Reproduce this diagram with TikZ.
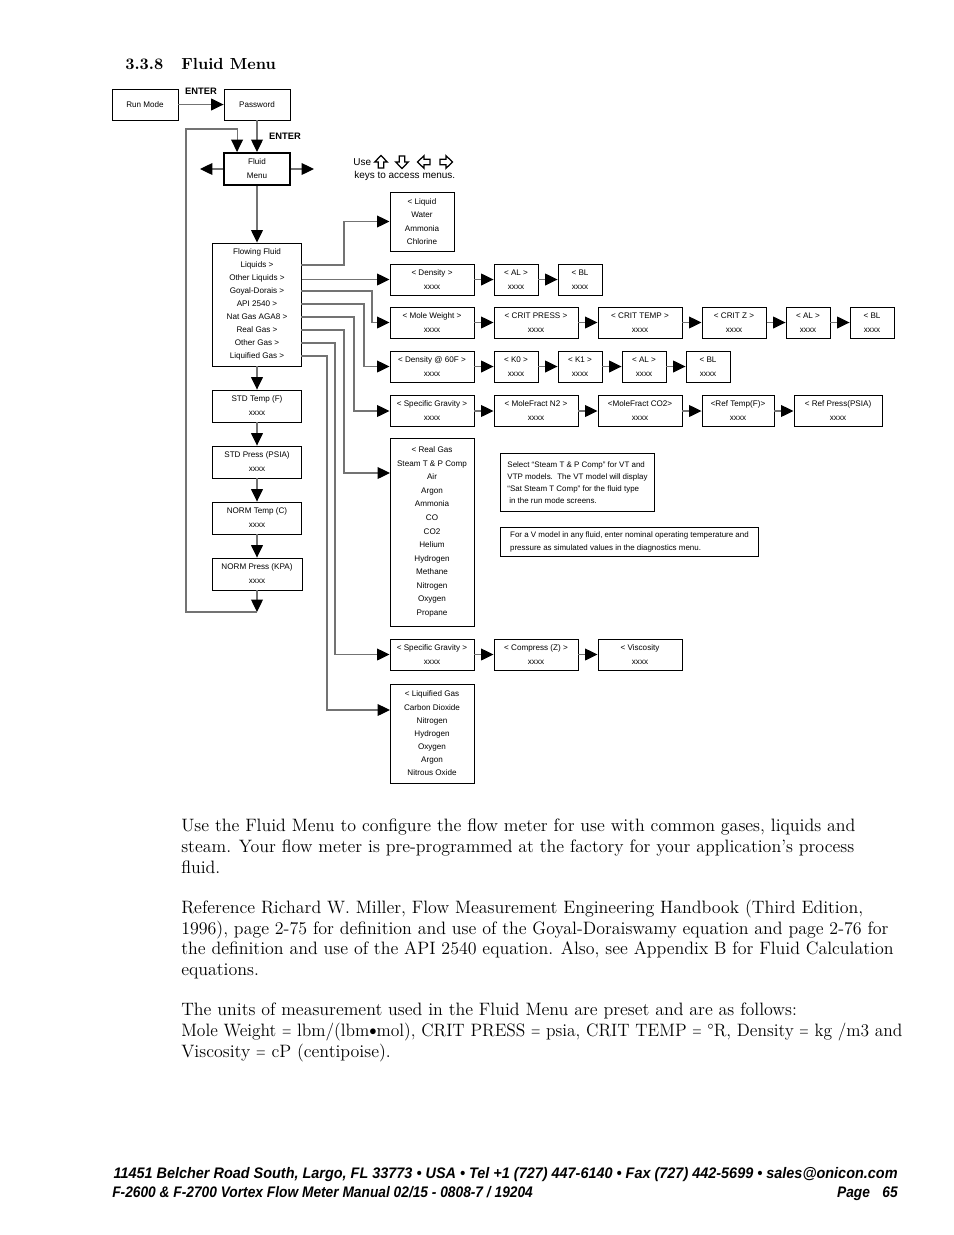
\documentclass[tikz,border=0pt]{standalone}
\usepackage{fontspec}
\usepackage{graphicx}
\usetikzlibrary{arrows.meta}
\newfontfamily\boxfont{Liberation Sans}
\newcommand\eqsign{\scalebox{0.7}[1]{=}}
\newcommand\dotsign{\raisebox{0.15ex}{\scalebox{0.8}{${\bullet}$}}}

\begin{document}
\begin{tikzpicture}[x=0.6415pt, y=-0.6415pt,
    box/.style={draw, line width=0.6pt, inner sep=0pt, align=center, minimum height=19.9pt,
      font=\boxfont\fontsize{5.2}{9}\selectfont},
    cell/.style={box, minimum width=#1},
    list/.style={box, font=\boxfont\fontsize{5.2}{8.5}\selectfont},
    note/.style={draw, line width=0.6pt, inner sep=2.4pt, align=left, anchor=north west,
      font=\boxfont\fontsize{5.1}{7.8}\selectfont},
    enter/.style={font=\boxfont\bfseries\fontsize{6}{7}\selectfont, inner sep=0pt},
    keytext/.style={font=\boxfont\fontsize{6.4}{8}\selectfont, inner sep=0pt},
    keyarrow/.style={draw, line width=0.8pt, line join=miter, fill=white},
    conn/.style={draw=black!55, line width=0.7pt, -{Triangle[length=8pt, width=7.6pt, color=black]}},
    body/.style={anchor=north west, inner sep=0pt, align=left, font=\fontsize{11.5}{13.2}\selectfont},
    foot/.style={inner sep=0pt, font=\boxfont\bfseries\itshape\fontsize{9.8}{11}\selectfont},
]
\fill[white] (0,0) rectangle (954,1235);
\useasboundingbox (0,0) rectangle (954,1235);

% heading
\node[anchor=base west, inner sep=0pt, font=\bfseries\fontsize{10.3}{13}\selectfont] (secnum) at (125,69) {3.3.8};
\node[anchor=base west, inner sep=0pt, font=\bfseries\fontsize{10.3}{13}\selectfont] (sectitle) at (181,69) {Fluid Menu};

% entry into the menu
\node[cell=42.3pt] (run) at (145,104.5) {Run Mode};
\node[cell=42.3pt] (pass) at (257,104.5) {Password};
\node[cell=42.3pt, minimum height=20.5pt, line width=1.3pt] (fluid) at (257,169) {Fluid\\Menu};
\node[enter] (enter1) at (201,91) {ENTER};
\node[enter] (enter2) at (285,136) {ENTER};

\draw[conn] (run) -- (pass);
\draw[conn] (pass) -- (fluid);
\coordinate (fluidL) at (200,169);
\coordinate (fluidR) at (314,169);
\draw[conn] (fluid.west) -- (fluidL);
\draw[conn] (fluid.east) -- (fluidR);

% key hint
\node[keytext, anchor=west] (use) at (353,162) {Use};
\foreach \r/\x in {0/381, 180/402, 90/424, -90/446}
  \draw[keyarrow, shift={(\x,162)}, rotate=\r]
    (0,-6.5) -- (6.3,0) -- (2.7,0) -- (2.7,6) -- (-2.7,6) -- (-2.7,0) -- (-6.3,0) -- cycle;
\node[keytext, anchor=west] (keys) at (354,176) {keys to access menus.};

% left column
\node[list, minimum width=56.5pt, minimum height=78.9pt, font=\boxfont\fontsize{5.2}{8.34}\selectfont] (ff) at (257,304.5)
  {Flowing Fluid\\Liquids >\\Other Liquids >\\Goyal-Dorais >\\API 2540 >\\Nat Gas AGA8 >\\Real Gas >\\Other Gas >\\Liquified Gas >};
\node[cell=56.5pt, minimum height=20.5pt] (stdT) at (257,406) {STD Temp (F)\\xxxx};
\node[cell=56.5pt, minimum height=20.5pt] (stdP) at (257,462) {STD Press (PSIA)\\xxxx};
\node[cell=56.5pt, minimum height=20.5pt] (normT) at (257,518) {NORM Temp (C)\\xxxx};
\node[cell=57.7pt, minimum height=20.5pt] (normP) at (257,574) {NORM Press (KPA)\\xxxx};

\draw[conn] (fluid) -- (ff);
\draw[conn] (ff) -- (stdT);
\draw[conn] (stdT) -- (stdP);
\draw[conn] (stdP) -- (normT);
\draw[conn] (normT) -- (normP);

% back to the top
\coordinate (loopB) at (257,612);
\coordinate (loopT) at (186,129);
\draw[conn] (normP) -- (loopB);
\draw[conn] (loopB) -| (loopT) -| ([xshift=-12.8pt]fluid.north);

% liquids
\node[list, minimum width=41.1pt, minimum height=37.8pt, font=\boxfont\fontsize{5.2}{8.55}\selectfont] (liquid) at (422,221.5)
  {< Liquid\\Water\\Ammonia\\Chlorine};

% other liquids
\node[cell=53.9pt] (dens) at (432,279.5) {< Density >\\xxxx};
\node[cell=28.2pt] (al1) at (516,279.5) {< AL >\\xxxx};
\node[cell=28.2pt] (bl1) at (580,279.5) {< BL\\xxxx};

% goyal-dorais
\node[cell=53.9pt] (mw) at (432,322.5) {< Mole Weight >\\xxxx};
\node[cell=53.9pt] (cp) at (536,322.5) {< CRIT PRESS >\\xxxx};
\node[cell=53.9pt] (ct) at (640,322.5) {< CRIT TEMP >\\xxxx};
\node[cell=41.1pt] (cz) at (734,322.5) {< CRIT Z >\\xxxx};
\node[cell=28.2pt] (al2) at (808,322.5) {< AL >\\xxxx};
\node[cell=28.2pt] (bl2) at (872,322.5) {< BL\\xxxx};

% api 2540
\node[cell=53.9pt] (d60) at (432,366.5) {< Density @ 60F >\\xxxx};
\node[cell=28.2pt] (k0) at (516,366.5) {< K0 >\\xxxx};
\node[cell=28.2pt] (k1) at (580,366.5) {< K1 >\\xxxx};
\node[cell=28.2pt] (al3) at (644,366.5) {< AL >\\xxxx};
\node[cell=28.2pt] (bl3) at (708,366.5) {< BL\\xxxx};

% nat gas aga8
\node[cell=53.9pt] (sg) at (432,411) {< Specific Gravity >\\xxxx};
\node[cell=53.9pt] (n2) at (536,411) {< MoleFract N2 >\\xxxx};
\node[cell=53.9pt] (co2) at (640,411) {<MoleFract CO2>\\xxxx};
\node[cell=46.2pt] (rt) at (738,411) {<Ref Temp(F)>\\xxxx};
\node[cell=56.5pt] (rp) at (838,411) {< Ref Press(PSIA)\\xxxx};

% real gas
\node[list, minimum width=53.9pt, minimum height=120.6pt, font=\boxfont\fontsize{5.2}{8.7}\selectfont] (rgas) at (432,532)
  {< Real Gas\\Steam T \& P Comp\\Air\\Argon\\Ammonia\\CO\\CO2\\Helium\\Hydrogen\\Methane\\Nitrogen\\Oxygen\\Propane};
\node[note, minimum width=98.8pt, minimum height=37.2pt] (note1) at (500,453)
  {Select “Steam T \& P Comp” for VT and\\VTP models.\ \ The VT model will display\\“Sat Steam T Comp” for the fluid type\\\hspace{1.2pt}in the run mode screens.};
\node[note, minimum width=165.5pt, minimum height=18.6pt] (note2) at (500,527)
  {For a V model in any fluid, enter nominal operating temperature and\\pressure as simulated values in the diagnostics menu.};

% other gas
\node[cell=53.9pt] (sg2) at (432,654.5) {< Specific Gravity >\\xxxx};
\node[cell=53.9pt] (cz2) at (536,654.5) {< Compress (Z) >\\xxxx};
\node[cell=53.9pt] (visc) at (640,654.5) {< Viscosity\\xxxx};

% liquified gas
\node[list, minimum width=53.9pt, minimum height=63.5pt, font=\boxfont\fontsize{5.2}{8.45}\selectfont] (lgas) at (432,733.5)
  {< Liquified Gas\\Carbon Dioxide\\Nitrogen\\Hydrogen\\Oxygen\\Argon\\Nitrous Oxide};

% from the fluid list
\foreach \n/\y in {liq/265, goy/291, api/304, aga/317, real/330, ogas/343, lgas/356}
  \coordinate (ff-\n) at (301,\y);
\coordinate (rgas-in) at (390,473);
\coordinate (lgas-in) at (390,710);
\draw[conn] (ff-liq) -- ++(43,0) |- (liquid.west);
\draw[conn] (ff.east |- dens.west) -- (dens.west);
\draw[conn] (ff-goy) -- ++(71,0) |- (mw.west);
\draw[conn] (ff-api) -- ++(63,0) |- (d60.west);
\draw[conn] (ff-aga) -- ++(53,0) |- (sg.west);
\draw[conn] (ff-real) -- ++(43,0) |- (rgas-in);
\draw[conn] (ff-ogas) -- ++(34,0) |- (sg2.west);
\draw[conn] (ff-lgas) -- ++(26,0) |- (lgas-in);

% along the rows
\foreach \a/\b in {dens/al1, al1/bl1, mw/cp, cp/ct, ct/cz, cz/al2, al2/bl2,
    d60/k0, k0/k1, k1/al3, al3/bl3, sg/n2, n2/co2, co2/rt, rt/rp, sg2/cz2, cz2/visc}
  \draw[conn] (\a) -- (\b);

% text below
\node[body] (par1) at (181,819)
  {Use the Fluid Menu to configure the flow meter for use with common gases, liquids and\\
   steam. Your flow meter is pre-programmed at the factory for your application’s process\\
   fluid.};
\node[body] (par2) at (181,900)
  {Reference Richard W. Miller, Flow Measurement Engineering Handbook (Third Edition,\\
   1996), page 2-75 for definition and use of the Goyal-Doraiswamy equation and page 2-76 for\\
   the definition and use of the API 2540 equation. Also, see Appendix B for Fluid Calculation\\
   equations.};
\node[body] (par3) at (181,1003)
  {The units of measurement used in the Fluid Menu are preset and are as follows:\\
   \scalebox{0.975}[1]{Mole Weight \eqsign{} lbm/(lbm\dotsign mol), CRIT PRESS \eqsign{} psia, CRIT TEMP \eqsign{} °R, Density \eqsign{} kg /m3 and}\\
   Viscosity \eqsign{} cP (centipoise).};

% footer
\node[foot, anchor=base east] (foot1) at (898,1178)
  {\scalebox{0.945}[1]{11451 Belcher Road South, Largo, FL 33773 • USA • Tel +1 (727) 447-6140 • Fax (727) 442-5699 • sales@onicon.com}};
\node[foot, anchor=base west] (foot2) at (112,1197)
  {\scalebox{0.9}[1]{F-2600 \& F-2700 Vortex Flow Meter Manual 02/15 - 0808-7 / 19204}};
\node[foot, anchor=base east] (foot3) at (898,1197)
  {\scalebox{0.9}[1]{Page\hspace{0.9em}65}};
\end{tikzpicture}
\end{document}
